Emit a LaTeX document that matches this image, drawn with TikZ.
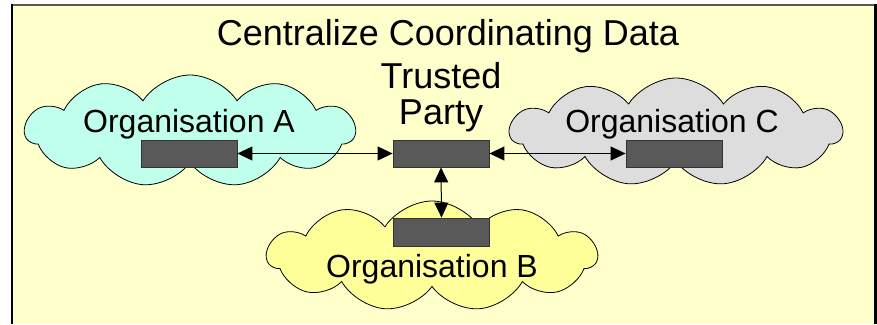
\documentclass[tikz,border=0pt]{standalone}
\usepackage{fontspec}
\setmainfont{Liberation Sans}
\usetikzlibrary{shapes.symbols,arrows.meta}
\definecolor{bgyellow}{HTML}{FFFFCC}
\definecolor{cloudA}{HTML}{C0FFEC}
\definecolor{cloudB}{HTML}{FFFF99}
\definecolor{cloudC}{HTML}{DDDDDD}
\definecolor{boxfill}{HTML}{595959}
\definecolor{boxline}{HTML}{333333}
\tikzset{
  orgcloud/.style={cloud, cloud puffs=11, cloud puff arc=115, aspect=3, draw=black, line width=0.8pt, inner sep=0pt, minimum width=#1},
  databox/.style={rectangle, fill=boxfill, draw=boxline, line width=0.8pt, minimum width=96pt, minimum height=27pt, inner sep=0pt},
  orglabel/.style={anchor=base, inner sep=0pt, font=\fontsize{32}{36}\selectfont},
  biglabel/.style={anchor=base, inner sep=0pt, font=\fontsize{36}{40}\selectfont},
  link/.style={{Triangle[length=15pt,width=14pt]}-{Triangle[length=15pt,width=14pt]}, line width=1pt, black}
}
\begin{document}
\begin{tikzpicture}[x=1pt,y=-1pt]
\useasboundingbox (0,0) rectangle (877,324);
\fill[white] (0,0) rectangle (877,324);
\fill[bgyellow] (12,5) rectangle (877,324);
\draw[gray!70!black, line width=1.5pt] (12,4.8) -- (877,4.8);
\draw[black, line width=2.5pt] (12.2,4) -- (12.2,324);
\draw[black, line width=3pt] (875.5,4) -- (875.5,324);

\node[biglabel] (title) at (448,45) {Centralize Coordinating Data};

\node[orgcloud=330pt, minimum height=112pt, fill=cloudA] (cA) at (190,131) {};
\node[orgcloud=332pt, minimum height=108pt, fill=cloudC] (cC) at (676,132) {};
\node[orgcloud=330pt, minimum height=110pt, fill=cloudB] (cB) at (432,256) {};

\node[orglabel] (lA) at (189,132) {Organisation A};
\node[orglabel] (lC) at (672,132) {Organisation C};
\node[orglabel] (lB) at (432,277) {Organisation B};
\node[biglabel] (lT1) at (441,88) {Trusted};
\node[biglabel] (lT2) at (441,124) {Party};

\node[databox] (bA) at (189,153.5) {};
\node[databox] (bT) at (441,153.5) {};
\node[databox] (bC) at (674,153.5) {};
\node[databox, minimum height=28pt] (bB) at (441.5,232) {};

\draw[link] (bA.east) -- (bT.west);
\draw[link] (bT.east) -- (bC.west);
\draw[link] (bT.south) -- (bB.north);
\end{tikzpicture}
\end{document}
